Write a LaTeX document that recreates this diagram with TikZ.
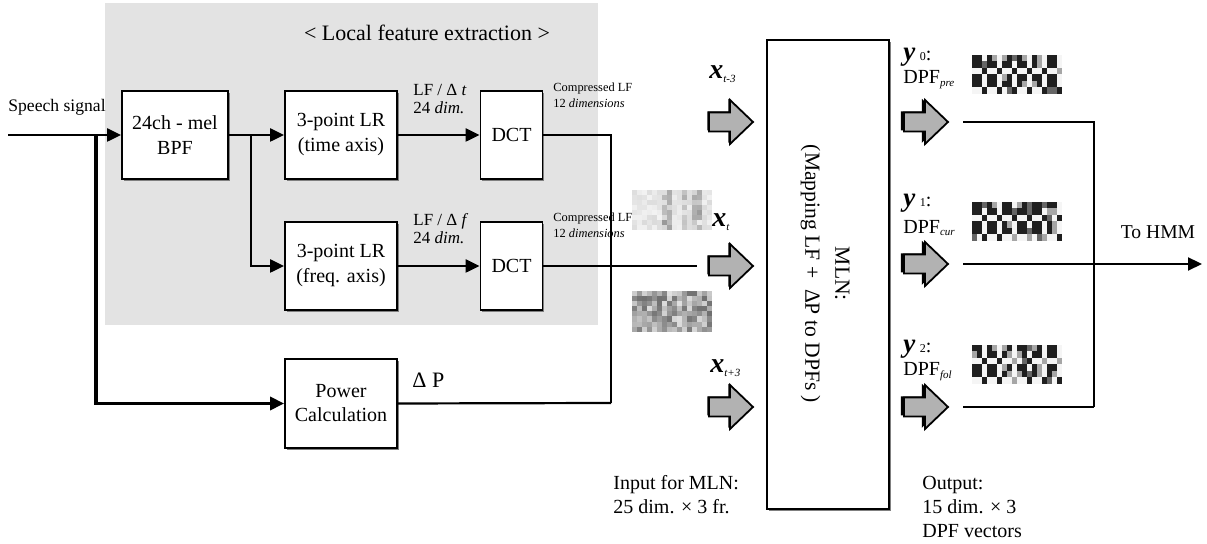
\documentclass[tikz,border=0pt]{standalone}
\usepackage{fontspec}
\setmainfont{Liberation Serif}
\usetikzlibrary{arrows.meta,shadows,calc}

\newcommand{\fs}[2]{\fontsize{#1}{#2}\selectfont}
\newcommand{\bx}[1]{\textbf{\textit{#1}}}
\newcommand{\lsub}[1]{\raisebox{-0.3ex}{\fs{5.5}{6}\itshape #1}}
\newcommand{\nsub}[1]{{\fs{6}{7}#1}}

% grey block arrow, tip at (#1,#2)
\newcommand{\blockarrow}[3]{%
  \draw[#3] (#1-44,#2-9.5) -- (#1-23,#2-9.5) -- (#1-23,#2-22) -- (#1,#2)
    -- (#1-23,#2+22) -- (#1-23,#2+9.5) -- (#1-44,#2+9.5) -- cycle;}

% black/white DPF pattern, top-left corner (#1,#2)
\newcommand{\dpfimg}[3]{%
  \pgfmathsetseed{#3}%
  \foreach \c in {0,...,17}{\foreach \r in {0,...,5}{%
    \pgfmathsetmacro\v{(mod(floor(\c/1.5)+floor(\r/1.5),2)==0) ? (rnd<0.8 ? 88 : 35) : (rnd<0.2 ? 60 : 4)}%
    \fill[black!\v] (#1+\c*5,#2+\r*6.4) rectangle ++(5.2,6.6);}}}

\begin{document}
\begin{tikzpicture}[x=0.5pt,y=-0.5pt,
  line/.style={line width=1.1pt},
  heavy/.style={line width=1.7pt},
  arr/.style={-{Triangle[length=7pt,width=6.5pt]}},
  blk/.style={draw,line width=0.9pt,fill=white,align=center,inner sep=0pt,
    font=\fs{10}{12.5},
    drop shadow={shadow xshift=0.9pt,shadow yshift=-0.9pt,fill=black!50,opacity=1}},
  inarrow/.style={draw,line width=0.9pt,fill=black!30,
    drop shadow={shadow xshift=-0.8pt,shadow yshift=0.6pt,fill=black,opacity=1}},
  outarrow/.style={draw,line width=0.9pt,fill=black!30,
    drop shadow={shadow xshift=-1.6pt,shadow yshift=0.6pt,fill=black,opacity=1}},
  lbl/.style={anchor=west,inner sep=0pt,align=left},
]
\useasboundingbox (0,0) rectangle (1207,544);
\fill[white] (0,0) rectangle (1207,544);

% shaded area of the local feature extractor
\fill[black!11] (105,3) rectangle (598,325);
\node[inner sep=0pt,font=\fs{11}{13}] (title) at (427,33) {< Local feature extraction >};

% processing blocks
\node[blk,minimum width=53pt,minimum height=44pt] (bpf) at (175,135) {24ch - mel\\BPF};
\node[blk,minimum width=56pt,minimum height=44pt] (lr1) at (341,135) {3-point LR\\(time axis)};
\node[blk,minimum width=56pt,minimum height=44pt] (lr2) at (341,266) {3-point LR\\(freq. axis)};
\node[blk,minimum width=31pt,minimum height=44pt] (dct1) at (511.5,135) {DCT};
\node[blk,minimum width=31pt,minimum height=44pt] (dct2) at (511.5,266) {DCT};
\node[blk,minimum width=56pt,minimum height=44.5pt,font=\fs{10}{12}] (pow) at (341,403.5) {Power\\Calculation};
\node[blk,minimum width=61pt,minimum height=234.5pt] (mln) at (828,274.5) {};
\node[rotate=-90,align=center,inner sep=0pt,font=\fs{10.8}{15}] (mlntxt) at (825,274)
  {MLN:\\(Mapping LF +\ \ ΔP to DPFs )};

% labels
\node[lbl,font=\fs{8.8}{10}] (speech) at (8,107) {Speech signal};
\node[lbl,font=\fs{8.5}{9}] (lft) at (413,99) {LF / Δ \textit{t}\\24 \textit{dim.}};
\node[lbl,font=\fs{8.5}{9}] (lff) at (413,229) {LF / Δ \textit{f}\\24 \textit{dim.}};
\node[lbl,font=\fs{11}{13}] (dp) at (412,380) {Δ P};

% spectrogram pieces
\pgfmathsetseed{17}
\foreach \c in {0,...,15}{\foreach \r in {0,...,7}{%
  \pgfmathsetmacro\v{int(5+10*rnd+((\c==6||\c==7||\c==10||\c==12||\c==13)?28*rnd:0))}%
  \fill[black!\v] (632+\c*5,190+\r*5) rectangle ++(5.2,5.2);}}
\pgfmathsetseed{29}
\foreach \c in {0,...,15}{\foreach \r in {0,...,7}{%
  \pgfmathsetmacro\v{int(12+45*rnd)}%
  \fill[black!\v] (632+\c*5,291+\r*5.1) rectangle ++(5.2,5.3);}}

\node[lbl,font=\fs{6.2}{8}] (cmp1) at (553,95) {Compressed LF\\12 \textit{dimensions}};
\node[lbl,font=\fs{6.2}{8}] (cmp2) at (553,225) {Compressed LF\\12 \textit{dimensions}};

% signal paths
\coordinate (sin) at (8,135);
\coordinate (j0) at (96,135);
\coordinate (j1) at (251,135);
\coordinate (mj) at (611,403);
\coordinate (xin) at (697,266);
\draw[line,arr] (sin) -- (bpf.west);
\draw[heavy,arr] (j0) |- (pow.west);
\draw[line,arr] (bpf.east) -- (lr1.west);
\draw[line,arr] (j1) |- (lr2.west);
\draw[line,arr] (lr1.east) -- (dct1.west);
\draw[line,arr] (lr2.east) -- (dct2.west);
\draw[line] (dct1.east) -| (mj);
\draw[line] (pow.east) -- (mj);
\draw[line] (dct2.east) -- (xin);

% input frames
\blockarrow{753}{122}{inarrow}
\blockarrow{753}{266}{inarrow}
\blockarrow{753}{407}{inarrow}
\node[lbl,font=\fs{14}{15}] (xa) at (709,74) {\bx{x}\lsub{t-3}};
\node[lbl,font=\fs{14}{15}] (xb) at (712,222) {\bx{x}\lsub{t}};
\node[lbl,font=\fs{14}{15}] (xc) at (710,368) {\bx{x}\lsub{t+3}};
\node[lbl,font=\fs{10}{12}] (inp) at (613,495) {Input for MLN:\\25 dim. × 3 fr.};

% output frames
\blockarrow{948}{122}{outarrow}
\blockarrow{948}{264}{outarrow}
\blockarrow{948}{407}{outarrow}
\node[lbl,font=\fs{13.5}{14}] (ya) at (903,57) {\bx{y}\,\nsub{0}\fs{10}{12}:};
\node[lbl,font=\fs{10}{12}] (da) at (903,80) {DPF\lsub{pre}};
\node[lbl,font=\fs{13.5}{14}] (yb) at (903,203) {\bx{y}\,\nsub{1}\fs{10}{12}:};
\node[lbl,font=\fs{10}{12}] (db) at (903,228) {DPF\lsub{cur}};
\node[lbl,font=\fs{13.5}{14}] (yc) at (903,349) {\bx{y}\,\nsub{2}\fs{10}{12}:};
\node[lbl,font=\fs{10}{12}] (dc) at (903,372) {DPF\lsub{fol}};
\dpfimg{972}{55}{5}
\dpfimg{972}{202}{11}
\dpfimg{972}{345}{23}
\node[lbl,font=\fs{10}{12}] (outp) at (922,507) {Output:\\15 dim. × 3\\DPF vectors};

\coordinate (r0) at (963,122);
\coordinate (r1) at (963,264);
\coordinate (r2) at (963,407);
\coordinate (rj) at (1094,407);
\coordinate (hmm) at (1202,264);
\draw[line] (r0) -| (rj);
\draw[line] (r2) -- (rj);
\draw[line,arr] (r1) -- (hmm);
\node[inner sep=0pt,font=\fs{9.8}{12}] (tohmm) at (1158,232) {To HMM};
\end{tikzpicture}
\end{document}
